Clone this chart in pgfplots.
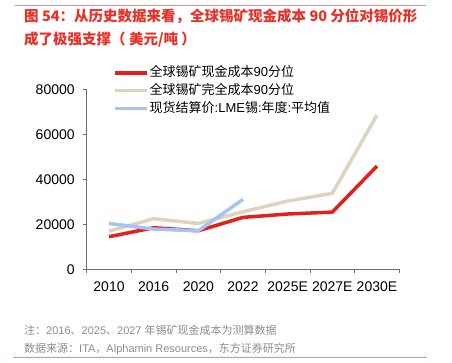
\documentclass[border=0pt]{standalone}
\usepackage{pgfplots}
\pgfplotsset{compat=1.18}
\usepackage{fontspec}
\setmainfont{Liberation Sans}
\newfontfamily\cjk{Noto Sans CJK SC}
\definecolor{cred}{RGB}{226,32,28}
\definecolor{cbeige}{RGB}{222,212,190}
\definecolor{cblue}{RGB}{163,196,245}
\definecolor{tred}{RGB}{232,48,40}
\definecolor{lred}{RGB}{242,140,140}
\definecolor{ngray}{RGB}{140,140,140}
\definecolor{agray}{RGB}{110,110,110}
\begin{document}
\begin{tikzpicture}
\path (0pt,0pt) rectangle (452pt,363pt);
\draw[lred, line width=1pt] (15pt,357.3pt) -- (426pt,357.3pt);
\draw[lred, line width=1pt] (13pt,5.7pt) -- (427pt,5.7pt);
\node[anchor=base west, inner sep=0pt, text=tred, font=\fontsize{14.5}{17}\cjk\bfseries] at (24pt,341pt) {图 54：从历史数据来看，全球锡矿现金成本 90 分位对锡价形};
\node[anchor=base west, inner sep=0pt, text=tred, font=\fontsize{14.5}{17}\cjk\bfseries] at (24pt,318pt) {成了极强支撑（ 美元/吨 ）};
\node[anchor=base west, inner sep=0pt, text=ngray, font=\fontsize{11}{13}\selectfont] at (24pt,28pt) {{\cjk 注：}2016{\cjk 、}2025{\cjk 、}2027 {\cjk 年锡矿现金成本为测算数据}};
\node[anchor=base west, inner sep=0pt, text=ngray, font=\fontsize{11}{13}\selectfont] at (24pt,10pt) {{\cjk 数据来源：}ITA{\cjk ，}Alphamin Resources{\cjk ，东方证券研究所}};
\begin{axis}[
  at={(86.7pt,93.7pt)}, anchor=south west,
  scale only axis, width=312.6pt, height=179.8pt,
  xmin=-0.5, xmax=6.5, ymin=0, ymax=80000,
  axis x line=bottom, axis y line=left,
  axis line style={-, agray, line width=0.8pt},
  xtick={-0.5,0.5,1.5,2.5,3.5,4.5,5.5,6.5}, xticklabels={},
  extra x ticks={0,1,2,3,4,5,6},
  extra x tick labels={2010,2016,2020,2022,2025E,2027E,2030E},
  extra x tick style={major tick length=0pt, xticklabel style={yshift=-9pt}},
  ytick={0,20000,40000,60000,80000},
  tick align=outside, major tick length=3.5pt,
  tick style={agray, line width=0.8pt},
  scaled y ticks=false,
  /pgf/number format/assume math mode=true,
  yticklabel={\pgfmathprintnumber[fixed,1000 sep={}]{\tick}},
  tick label style={font=\fontsize{14}{16}\selectfont, text=black},
  yticklabel style={xshift=-5pt},
  legend style={at={(0.084,1.135)}, anchor=north west, draw=none, fill=none,
    font=\fontsize{13}{15}\selectfont, row sep=2.8pt, inner sep=0pt,
    nodes={text height=10pt, text depth=3pt, inner sep=1pt}},
  legend cell align=left,
  legend image code/.code={\draw[#1] (0pt,0pt) -- (32pt,0pt);},
  every axis plot/.append style={line width=3.5pt, line join=round},
]
\addplot[cred] coordinates {(0,14500) (1,18500) (2,17150) (3,23100) (4,24600) (5,25450) (6,45900)};
\addplot[cbeige] coordinates {(0,17000) (1,22500) (2,20400) (3,25600) (4,30350) (5,33800) (6,68600)};
\addplot[cblue] coordinates {(0,20400) (1,17900) (2,17150) (3,31100)};
\legend{{\cjk 全球锡矿现金成本}90{\cjk 分位},{\cjk 全球锡矿完全成本}90{\cjk 分位},{\cjk 现货结算价}:LME{\cjk 锡}:{\cjk 年度}:{\cjk 平均值}}
\end{axis}
\end{tikzpicture}
\end{document}
